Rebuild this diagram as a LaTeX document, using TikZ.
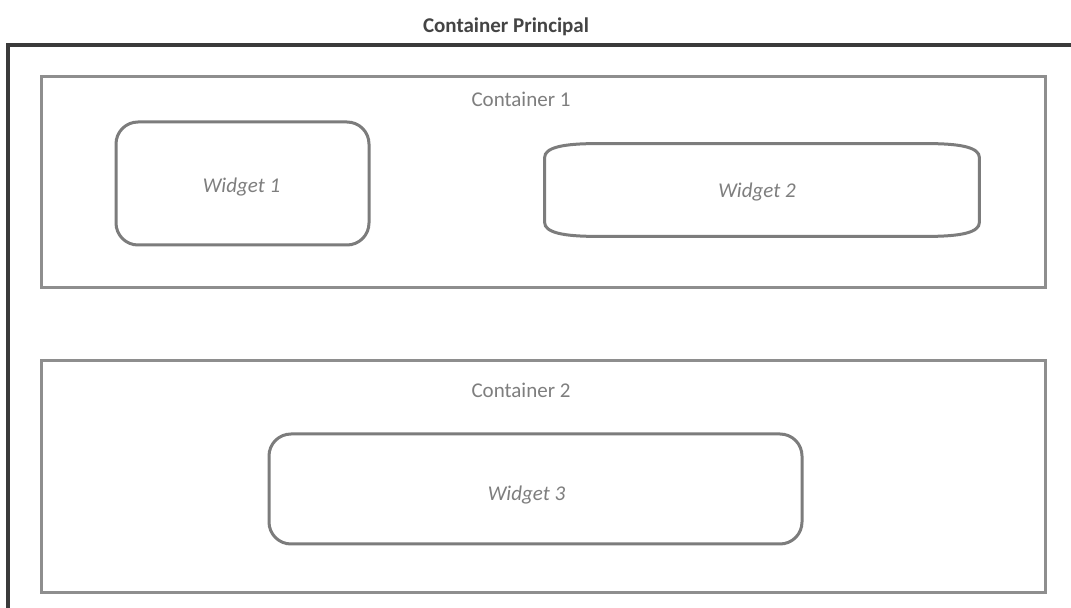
\documentclass[tikz,border=0pt]{standalone}
\usepackage{fontspec}
\setmainfont{Carlito}
\usetikzlibrary{positioning,calc}

\definecolor{framedark}{HTML}{3A3A3A}
\definecolor{framegray}{HTML}{8E8E8E}
\definecolor{widgetgray}{HTML}{7C7C7C}
\definecolor{textdark}{HTML}{444444}
\definecolor{textgray}{HTML}{7E7E7E}

\tikzset{
  maincontainer/.style={draw=framedark, line width=1.6pt, rectangle},
  container/.style={draw=framegray, line width=1.5pt, rectangle, minimum width=502pt},
  widget/.style={draw=widgetgray, line width=1.5pt, rounded corners=11pt},
  wtext/.style={text=textgray, font=\fontsize{10.5}{12}\selectfont\itshape, inner sep=0pt},
  ctitle/.style={text=textgray, font=\fontsize{10.5}{12}\selectfont, inner sep=0pt},
}

\begin{document}
\begin{tikzpicture}[x=0.5pt,y=-0.5pt]
  \clip (0,0) rectangle (1071,608);
  \fill[white] (0,0) rectangle (1071,608);

  % main frame runs off the right and bottom
  \node[maincontainer, minimum width=536pt, minimum height=290pt] (principal) at (544,335) {};
  \node[text=textdark, font=\fontsize{10.5}{12}\selectfont\bfseries] (principal-title) at (506,27) {Container Principal};

  % containers
  \node[container, minimum height=105.5pt] (c1) at (543,182.5) {};
  \node[container, minimum height=116pt] (c2) at (543,477) {};
  \node[ctitle] (c1-title) at ($(c1.north)+(-22,24)$) {Container 1};
  \node[ctitle] (c2-title) at ($(c2.north)+(-22,31)$) {Container 2};

  % widgets
  \node[widget, minimum width=126.5pt, minimum height=61.5pt] (w1) at (242.5,183.5) {};
  \node[wtext] (w1-text) at ($(w1.center)+(-1,4)$) {Widget 1};

  \node[minimum width=217pt, minimum height=46pt] (w2) at (762,190) {};
  \draw[draw=widgetgray, line width=1.5pt]
    ($(w2.north west)+(52,0)$) -- ($(w2.north east)+(-52,0)$)
      .. controls ($(w2.north east)+(-18,0)$) and ($(w2.north east)+(0,4)$) .. ($(w2.north east)+(0,14)$)
      -- ($(w2.south east)+(0,-14)$)
      .. controls ($(w2.south east)+(0,-4)$) and ($(w2.south east)+(-18,0)$) .. ($(w2.south east)+(-52,0)$)
      -- ($(w2.south west)+(52,0)$)
      .. controls ($(w2.south west)+(18,0)$) and ($(w2.south west)+(0,-4)$) .. ($(w2.south west)+(0,-14)$)
      -- ($(w2.north west)+(0,14)$)
      .. controls ($(w2.north west)+(0,4)$) and ($(w2.north west)+(18,0)$) .. cycle;
  \node[wtext] (w2-text) at ($(w2.center)+(-5,2)$) {Widget 2};

  \node[widget, minimum width=266.5pt, minimum height=55pt] (w3) at (535.5,489) {};
  \node[wtext] (w3-text) at ($(w3.center)+(-9,6)$) {Widget 3};
\end{tikzpicture}
\end{document}
